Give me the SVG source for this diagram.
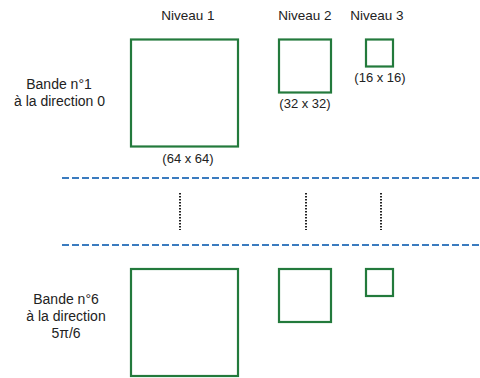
<svg xmlns="http://www.w3.org/2000/svg" width="480" height="378" viewBox="0 0 480 378">
<style>
.sq{fill:none;stroke:#237a3c;stroke-width:2.2}
.t{font-family:"Liberation Sans",Arial,sans-serif;font-size:14px;fill:#222;text-anchor:middle}
.h{font-size:13.5px}
.s{font-size:13px}
.dash{stroke:#3a7bbf;stroke-width:2;stroke-dasharray:7 3}
.dot{stroke:#222;stroke-width:2;stroke-dasharray:1.5 1.5}
</style>
<rect width="480" height="378" fill="#fff"/>
<g id="headers">
<text class="t h" x="188" y="20">Niveau 1</text>
<text class="t h" x="305" y="20">Niveau 2</text>
<text class="t h" x="377" y="20">Niveau 3</text>
</g>
<g id="band1-label">
<text class="t" x="59" y="89">Bande n°1</text>
<text class="t" x="59.5" y="106">à la direction 0</text>
</g>
<g id="band1-l1"><rect class="sq" x="131" y="39.5" width="107" height="107"/><text class="t s" x="188" y="163">(64 x 64)</text></g>
<g id="band1-l2"><rect class="sq" x="279" y="39.5" width="52" height="53"/><text class="t s" x="305" y="108">(32 x 32)</text></g>
<g id="band1-l3"><rect class="sq" x="366" y="39.5" width="27" height="27"/><text class="t s" x="380" y="82">(16 x 16)</text></g>
<g id="connectors">
<line class="dash" x1="62" y1="178" x2="480" y2="178"/>
<line class="dash" x1="62" y1="245" x2="480" y2="245"/>
<line class="dot" x1="180" y1="193" x2="180" y2="230"/>
<line class="dot" x1="306" y1="193" x2="306" y2="230"/>
<line class="dot" x1="381" y1="193" x2="381" y2="230"/>
</g>
<g id="band6-label">
<text class="t" x="66" y="304">Bande n°6</text>
<text class="t" x="66" y="321">à la direction</text>
<text class="t" x="66" y="338">5π/6</text>
</g>
<g id="band6-l1"><rect class="sq" x="131" y="269" width="107" height="107"/></g>
<g id="band6-l2"><rect class="sq" x="279" y="269" width="52" height="53"/></g>
<g id="band6-l3"><rect class="sq" x="366" y="269" width="27" height="27"/></g>
</svg>
